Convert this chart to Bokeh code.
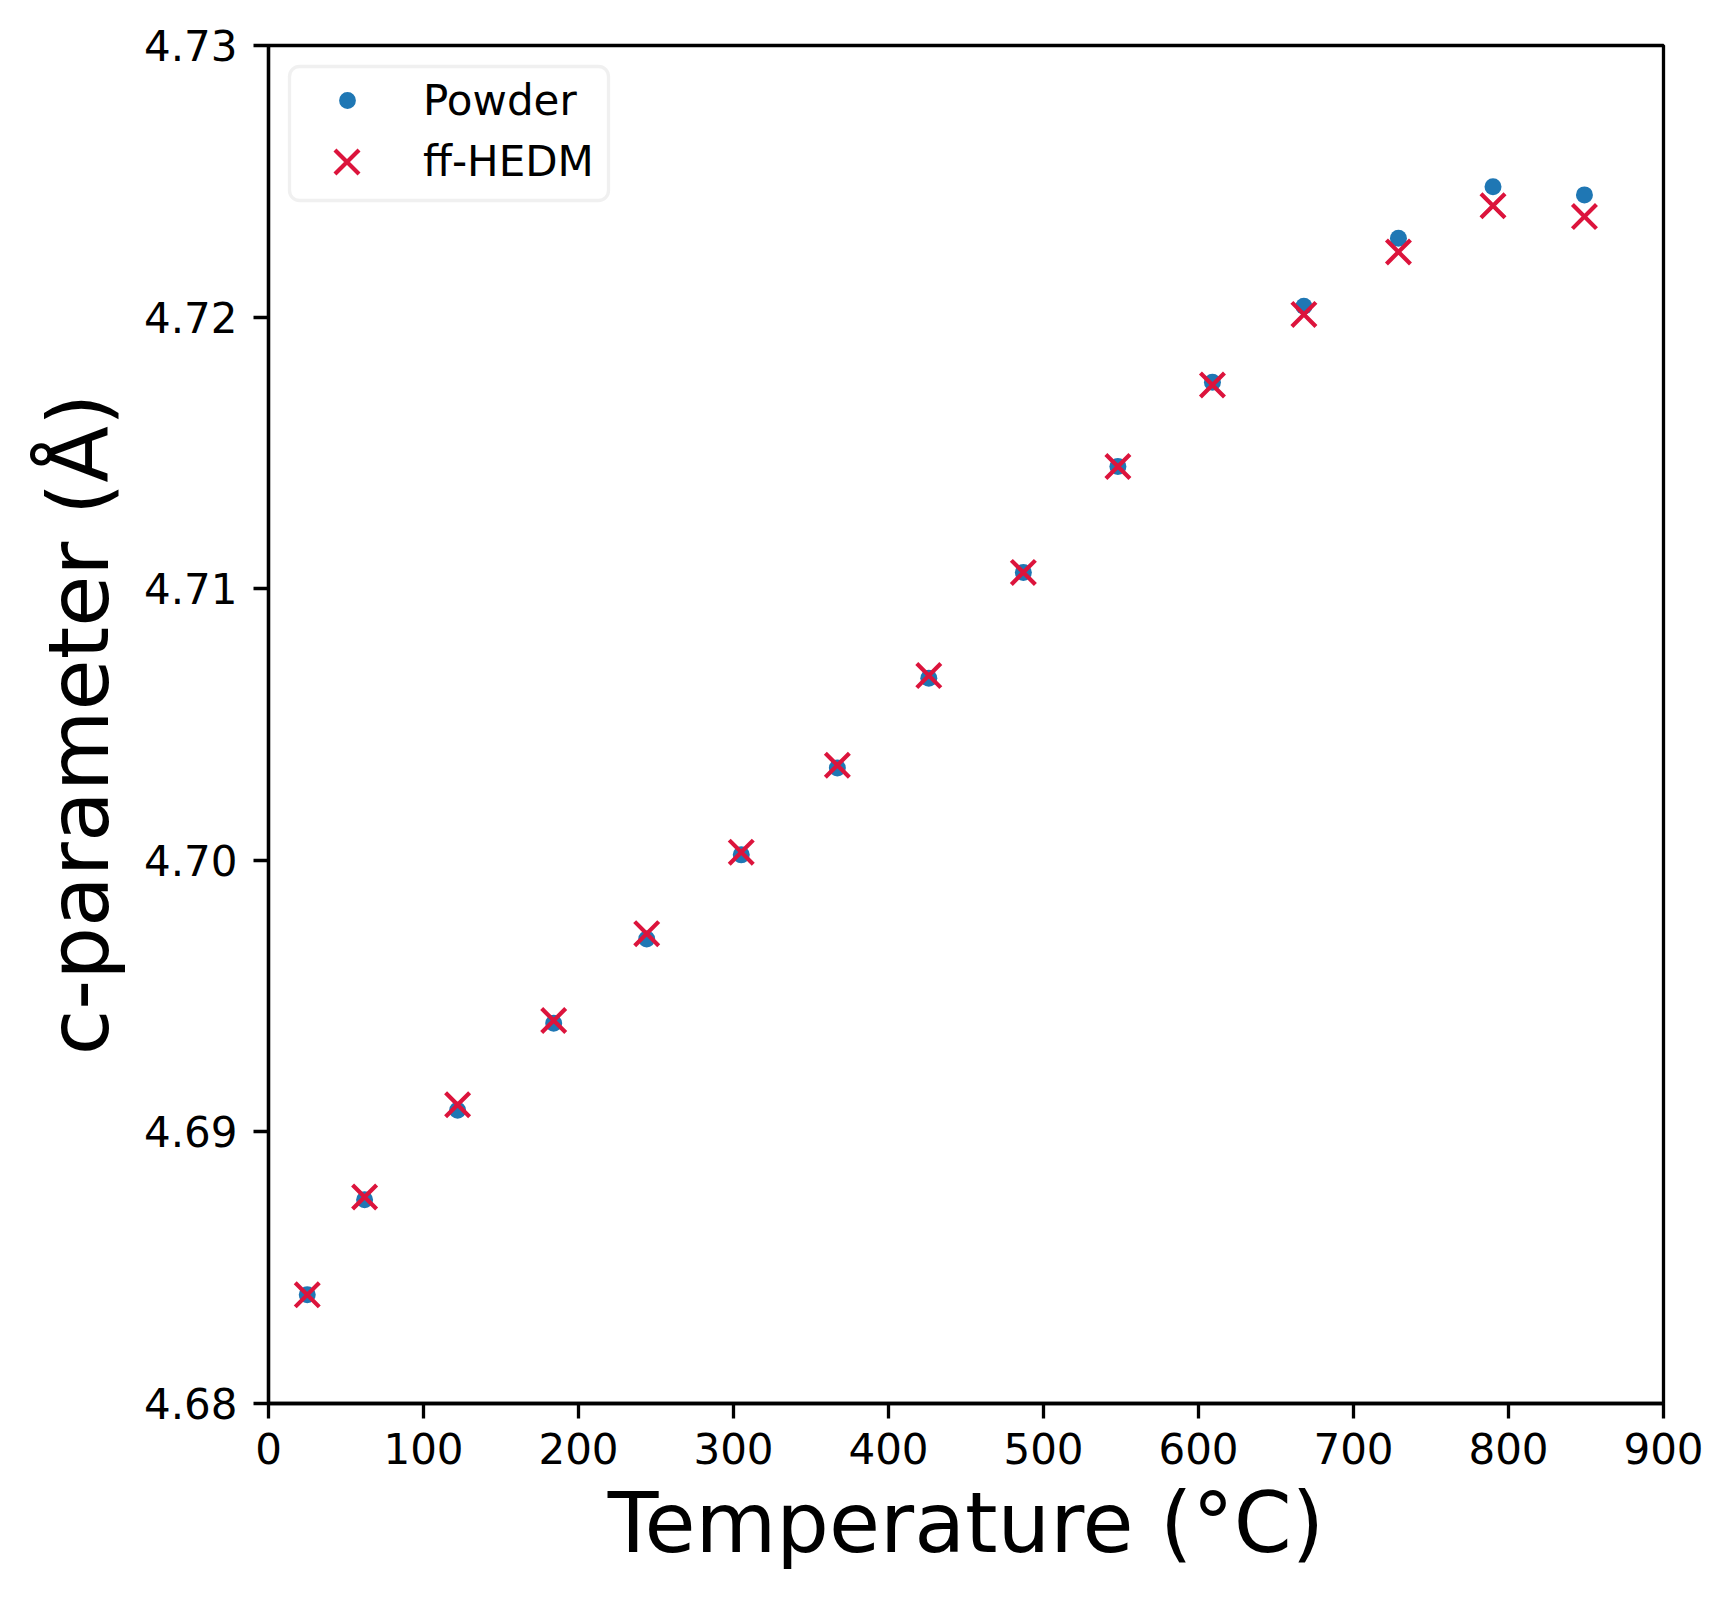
from bokeh.plotting import figure
from bokeh.models import (FixedTicker, PrintfTickFormatter, Legend, LegendItem,
                          Range1d, BoxAnnotation)
from bokeh.embed import file_html
from bokeh.resources import INLINE

temperature = [25, 62, 122, 184, 244, 305, 367, 426, 487, 548, 609, 668, 729, 790, 849]
powder = [4.6840, 4.6875, 4.6908, 4.6940, 4.6971, 4.7002, 4.7034, 4.7067, 4.7106,
          4.7145, 4.7176, 4.7204, 4.7229, 4.7248, 4.7245]
ff_hedm = [4.6840, 4.6876, 4.6910, 4.6941, 4.6973, 4.7003, 4.7035, 4.7068, 4.7106,
           4.7145, 4.7175, 4.7201, 4.7224, 4.7241, 4.7237]
x_ticks = [0, 100, 200, 300, 400, 500, 600, 700, 800, 900]
y_ticks = [4.68, 4.69, 4.70, 4.71, 4.72, 4.73]

FONT = "DejaVu Sans"
FW, FH = 1395, 1358

p = figure(frame_width=FW, frame_height=FH,
           x_range=Range1d(0, 900), y_range=Range1d(4.68, 4.73),
           output_backend="svg", toolbar_location=None,
           min_border_left=268, min_border_right=50,
           min_border_top=45, min_border_bottom=185)

p.background_fill_color = "white"
p.border_fill_color = "white"
p.xgrid.visible = False
p.ygrid.visible = False
p.outline_line_color = "black"
p.outline_line_width = 3.3

r1 = p.scatter(temperature, powder, marker="circle", size=17,
               fill_color="#1f77b4", line_color=None)
r2 = p.scatter(temperature, ff_hedm, marker="x", size=34,
               line_color="#dc143c", line_width=4.2)

for ax in (p.xaxis[0], p.yaxis[0]):
    ax.axis_line_width = 3.3
    ax.axis_line_color = "black"
    ax.major_tick_line_width = 3.3
    ax.major_tick_in = 0
    ax.major_tick_out = 15
    ax.minor_tick_line_color = None
    ax.major_label_text_font = FONT
    ax.major_label_text_font_size = "42px"
    ax.major_label_text_color = "black"
    ax.axis_label_text_font = FONT
    ax.axis_label_text_font_size = "83px"
    ax.axis_label_text_font_style = "normal"
    ax.axis_label_text_color = "black"

p.xaxis.ticker = FixedTicker(ticks=x_ticks)
p.yaxis.ticker = FixedTicker(ticks=y_ticks)
p.yaxis.formatter = PrintfTickFormatter(format="%.2f")
p.xaxis.axis_label = "Temperature (°C)"
p.yaxis.axis_label = "c-parameter (Å)"
p.xaxis.major_label_standoff = 14
p.yaxis.major_label_standoff = 16
p.xaxis.axis_label_standoff = 8
p.yaxis.axis_label_standoff = 13

# legend frame (rounded, light grey, semi-transparent white)
box = BoxAnnotation(left=21, right=340, top=FH - 21, bottom=FH - 155,
                    left_units="screen", right_units="screen",
                    top_units="screen", bottom_units="screen",
                    fill_color="white", fill_alpha=0.8,
                    line_color="#cccccc", line_width=3.3, border_radius=10)
p.add_layout(box)


def make_legend(item, gw, gh, standoff, left, top):
    lg = Legend(items=[item], location=(left, FH - top - gh))
    lg.label_text_font = FONT
    lg.label_text_font_size = "42px"
    lg.label_text_color = "black"
    lg.padding = 0
    lg.margin = 0
    lg.spacing = 0
    lg.glyph_width = gw
    lg.glyph_height = gh
    lg.label_height = gh
    lg.label_standoff = standoff
    lg.border_line_color = None
    lg.background_fill_alpha = 0
    return lg


leg1 = make_legend(LegendItem(label="Powder", renderers=[r1]),
                   gw=42, gh=60, standoff=55, left=58, top=25)
leg2 = make_legend(LegendItem(label="ff-HEDM", renderers=[r2]),
                   gw=85, gh=85, standoff=34, left=36, top=74)
p.add_layout(leg1)
p.add_layout(leg2)

open("out.html", "w").write(file_html(p, INLINE))
